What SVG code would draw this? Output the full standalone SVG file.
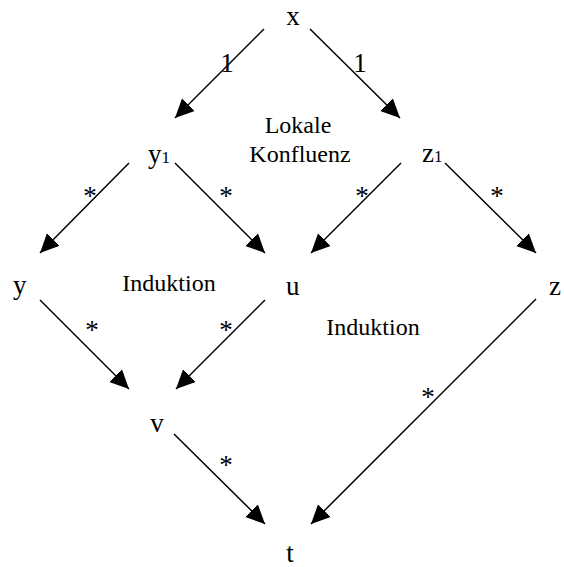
<svg xmlns="http://www.w3.org/2000/svg" width="564" height="567" viewBox="0 0 564 567">
<style>
.n{font-size:27px}
.s{font-size:17px}
.l{font-size:24px;text-anchor:middle}
.e{font-size:27px;text-anchor:middle}
line{stroke:#000;stroke-width:1.5;marker-end:url(#ah)}
</style>
<defs>
<marker id="ah" markerUnits="userSpaceOnUse" markerWidth="22" markerHeight="20" refX="19" refY="9" orient="auto">
<path d="M0,0 L19,9 L0,18 z" fill="#000"/>
</marker>
</defs>
<rect width="564" height="567" fill="#fff"/>
<g font-family="Liberation Serif, Times New Roman, serif" fill="#000">
<g id="connectors">
<line x1="264" y1="29" x2="175" y2="118"/>
<line x1="310" y1="29" x2="400" y2="118"/>
<line x1="129" y1="163" x2="40" y2="253"/>
<line x1="175" y1="163" x2="265" y2="253"/>
<line x1="401" y1="163" x2="311" y2="253"/>
<line x1="445" y1="163" x2="536" y2="253"/>
<line x1="40" y1="300" x2="129" y2="389"/>
<line x1="265" y1="300" x2="176" y2="389"/>
<line x1="174" y1="434" x2="265" y2="524"/>
<line x1="536" y1="299" x2="311" y2="524"/>
<text class="e" x="227" y="72">1</text>
<text class="e" x="360" y="72">1</text>
<text class="e" x="90" y="205">*</text>
<text class="e" x="226" y="205">*</text>
<text class="e" x="362" y="205">*</text>
<text class="e" x="497" y="205">*</text>
<text class="e" x="92" y="339">*</text>
<text class="e" x="226" y="339">*</text>
<text class="e" x="226" y="474">*</text>
<text class="e" x="428" y="406">*</text>
</g>
<g id="node-x"><text class="n" x="293" y="25" text-anchor="middle">x</text></g>
<g id="node-y1"><text class="n" x="148" y="163">y<tspan class="s">1</tspan></text></g>
<g id="node-z1"><text class="n" x="422" y="162">z<tspan class="s">1</tspan></text></g>
<g id="node-y"><text class="n" x="13" y="294">y</text></g>
<g id="node-u"><text class="n" x="286" y="295">u</text></g>
<g id="node-z"><text class="n" x="549" y="295">z</text></g>
<g id="node-v"><text class="n" x="157" y="432" text-anchor="middle">v</text></g>
<g id="node-t"><text class="n" x="290" y="562" text-anchor="middle">t</text></g>
<g id="label-lokale"><text class="l" x="298" y="133">Lokale</text><text class="l" x="300" y="162">Konfluenz</text></g>
<g id="label-induktion-1"><text class="l" x="169" y="291">Induktion</text></g>
<g id="label-induktion-2"><text class="l" x="373" y="335">Induktion</text></g>
</g>
</svg>
